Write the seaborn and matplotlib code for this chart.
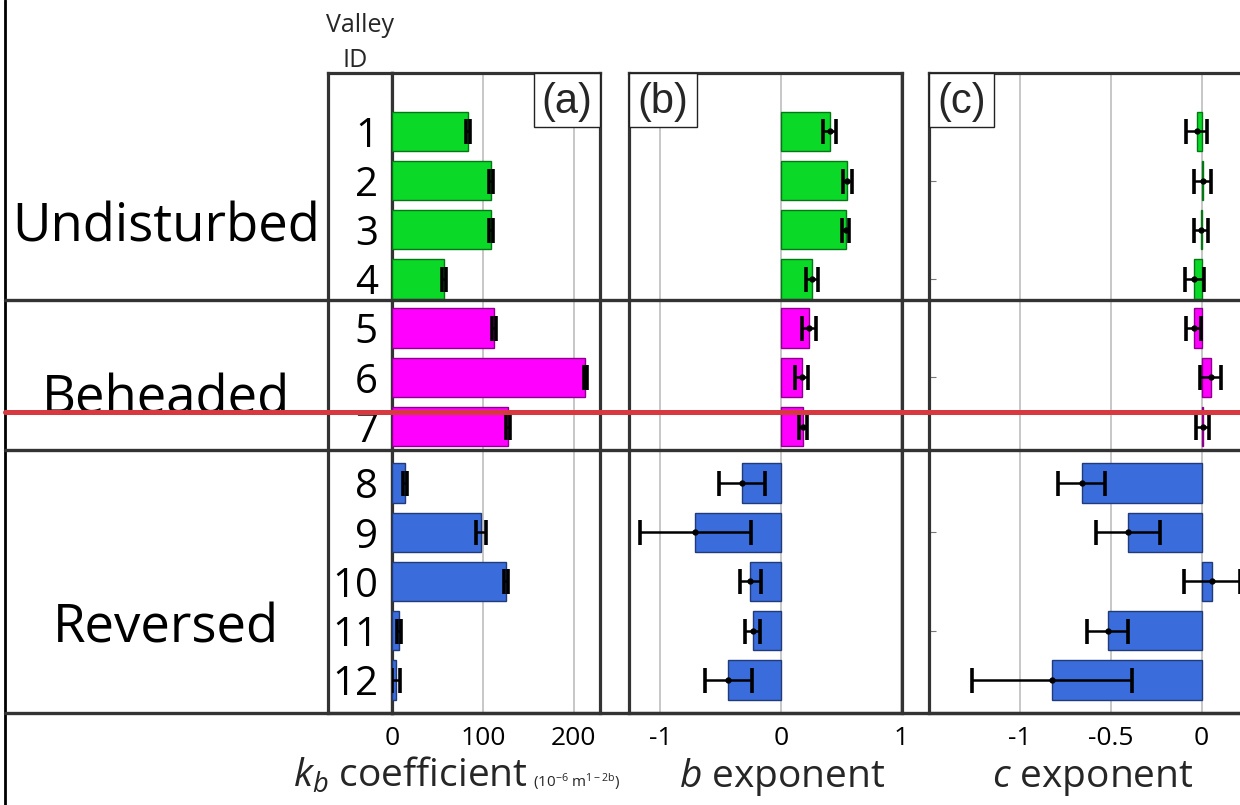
import numpy as np
import pandas as pd
import matplotlib
matplotlib.use("Agg")
import matplotlib.pyplot as plt
import matplotlib.transforms as mtransforms
from matplotlib.lines import Line2D
from matplotlib.patches import Rectangle
from matplotlib import colors as mcolors
import seaborn as sns

# ---- data -------------------------------------------------------------
valley_ids = [1, 2, 3, 4, 5, 6, 7, 8, 9, 10, 11, 12]
groups = ["Undisturbed"] * 4 + ["Beheaded"] * 3 + ["Reversed"] * 5
group_order = ["Undisturbed", "Beheaded", "Reversed"]

kb_coef = [84, 109, 109, 57, 112, 213, 128, 14.6, 98, 125.5, 8, 4.4]
kb_err = [2, 2, 2, 2, 2, 2, 2, 2, 5.7, 2, 2, 4]

b_exp = [0.405, 0.552, 0.538, 0.255, 0.233, 0.172, 0.183,
         -0.324, -0.709, -0.252, -0.233, -0.435]
b_err = [0.055, 0.04, 0.03, 0.05, 0.06, 0.054, 0.03,
         0.19, 0.46, 0.085, 0.064, 0.197]

c_exp = [-0.027, 0.005, -0.004, -0.04, -0.044, 0.05, 0.005,
         -0.659, -0.404, 0.059, -0.517, -0.821]
c_err = [0.058, 0.049, 0.04, 0.054, 0.042, 0.058, 0.035,
         0.13, 0.177, 0.154, 0.113, 0.44]

kb_ticks = [0, 100, 200]
b_ticks = [-1, 0, 1]
c_ticks = [-1, -0.5, 0]
c_tick_labels = ["-1", "-0.5", "0"]

palette = {"Undisturbed": "#0AD928", "Beheaded": "#FF00FF", "Reversed": "#3A6CDB"}
group_gap = {"Undisturbed": 0.0, "Beheaded": 0.0, "Reversed": 0.15}

df = pd.DataFrame({
    "valley": valley_ids,
    "group": groups,
    "kb": kb_coef, "kb_err": kb_err,
    "b": b_exp, "b_err": b_err,
    "c": c_exp, "c_err": c_err,
})
df["pos"] = np.arange(len(df)) + df["group"].map(group_gap)

# ---- style ------------------------------------------------------------
sns.set_theme(style="white")
plt.rcParams["font.family"] = ["Open Sans", "DejaVu Sans"]
plt.rcParams["mathtext.fontset"] = "custom"
plt.rcParams["mathtext.rm"] = "Open Sans"
plt.rcParams["mathtext.it"] = "Open Sans:italic"

W, H = 1240, 805
fig = plt.figure(figsize=(W / 100, H / 100), dpi=100)
fig.patch.set_facecolor("white")


def fx(px):
    return px / W


def fy(py):
    return 1 - py / H


TOP, BOT = 73, 713
YLIM = (11.823, -1.185)
FRAME = "#333333"


def add_panel(x0, x1):
    return fig.add_axes([fx(x0), fy(BOT), fx(x1) - fx(x0), (BOT - TOP) / H])


ax_id = add_panel(328, 392)
ax_a = add_panel(392, 600)
ax_b = add_panel(629, 902)
ax_c = add_panel(929, 1252)


def darker(c, f=0.55):
    r, g, b, a = mcolors.to_rgba(c)
    return (r * f, g * f, b * f, 1)


def draw_panel(ax, col, err, xlim, ticks, labels, dot=True):
    sns.barplot(data=df, x=col, y="pos", hue="group", hue_order=group_order,
                palette=palette, saturation=1, orient="h", native_scale=True,
                dodge=False, width=0.8, errorbar=None, legend=False,
                linewidth=1, ax=ax, zorder=3)
    for p in ax.patches:
        p.set_edgecolor(darker(p.get_facecolor()))
    ax.errorbar(df[col], df["pos"], xerr=df[err], fmt="o",
                ms=3.5 if dot else 0, color="black", ecolor="black",
                elinewidth=1.8, capsize=9, capthick=2.6, zorder=5)
    ax.set_xlim(*xlim)
    ax.set_ylim(*YLIM)
    ax.set_xticks(ticks)
    ax.set_xticklabels(labels)
    ax.grid(axis="x", color="#b8b8b8", lw=1.1)
    ax.grid(axis="y", visible=False)
    ax.set_axisbelow(True)
    ax.set_yticks([])
    ax.set_xlabel("")
    ax.set_ylabel("")
    ax.tick_params(axis="x", length=0, pad=9, labelsize=19, labelcolor="black")


draw_panel(ax_a, "kb", "kb_err", (0, 229), kb_ticks, [str(t) for t in kb_ticks], dot=False)
draw_panel(ax_b, "b", "b_err", (-1.26, 1.005), b_ticks, [str(t) for t in b_ticks])
draw_panel(ax_c, "c", "c_err", (-1.5, 0.277), c_ticks, c_tick_labels)

# small inner ticks on the (c) frame
ax_c.set_yticks(df["pos"].iloc[[1, 3, 5, 8, 10]])
ax_c.tick_params(axis="y", direction="in", length=5, color="#777777",
                 labelleft=False, left=True, width=0.8)

ax_id.set_xlim(0, 1)
ax_id.set_ylim(*YLIM)
ax_id.set_xticks([])
ax_id.set_yticks([])

for ax in (ax_id, ax_a, ax_b, ax_c):
    for s in ax.spines.values():
        s.set_visible(True)
        s.set_color(FRAME)
        s.set_linewidth(2.3)
ax_c.spines["right"].set_visible(False)

# valley id numbers
tr_id = mtransforms.blended_transform_factory(ax_id.transAxes, ax_id.transData)
for vid, p in zip(df["valley"], df["pos"]):
    ax_id.text((378 - 328) / 64, p, str(vid), transform=tr_id, ha="right",
               va="center_baseline", fontsize=29, color="black")

# panel letters
for x0, x1, lab in [(534, 600, "(a)"), (629, 697, "(b)"), (929, 994, "(c)")]:
    fig.add_artist(Rectangle((fx(x0), fy(127)), fx(x1) - fx(x0), (127 - TOP) / H,
                             transform=fig.transFigure, facecolor="white",
                             edgecolor="#222222", lw=1.0, zorder=8))
    fig.text(fx((x0 + x1) / 2), fy(102), lab, ha="center", va="center",
             fontsize=30, family=["Liberation Sans", "DejaVu Sans"], zorder=9)

# group names
for name, base in [("Undisturbed", 242), ("Beheaded", 413), ("Reversed", 642)]:
    fig.text(fx(166), fy(base), name, ha="center", va="baseline",
             fontsize=38, color="black")

fig.text(fx(360), fy(32), "Valley", ha="center", va="baseline", fontsize=18)
fig.text(fx(355), fy(67), "ID", ha="center", va="baseline", fontsize=18)

# axis titles
fig.text(fx(528), fy(787), r"$k_b$ coefficient", ha="right", va="baseline", fontsize=28)
fig.text(fx(533), fy(787), r"(10$^{\mathrm{-6}}$ m$^{\mathrm{1-2b}}$)", ha="left",
         va="baseline", fontsize=11)
fig.text(fx(782), fy(787), r"$b$ exponent", ha="center", va="baseline", fontsize=28)
fig.text(fx(1093), fy(787), r"$c$ exponent", ha="center", va="baseline", fontsize=28)

# outer frame and group separators
fig.add_artist(Line2D([fx(5), fx(5)], [0, 1], color="black", lw=2.0, zorder=10))
for py in (300, 450, 713):
    fig.add_artist(Line2D([fx(5), 1], [fy(py), fy(py)], color=FRAME, lw=2.4, zorder=10))

# highlighted guide line
fig.add_artist(Line2D([fx(5), 1], [fy(412), fy(412)], color="#D63A40", lw=3.6, zorder=20))

fig.savefig("out.png", dpi=100, facecolor="white")
